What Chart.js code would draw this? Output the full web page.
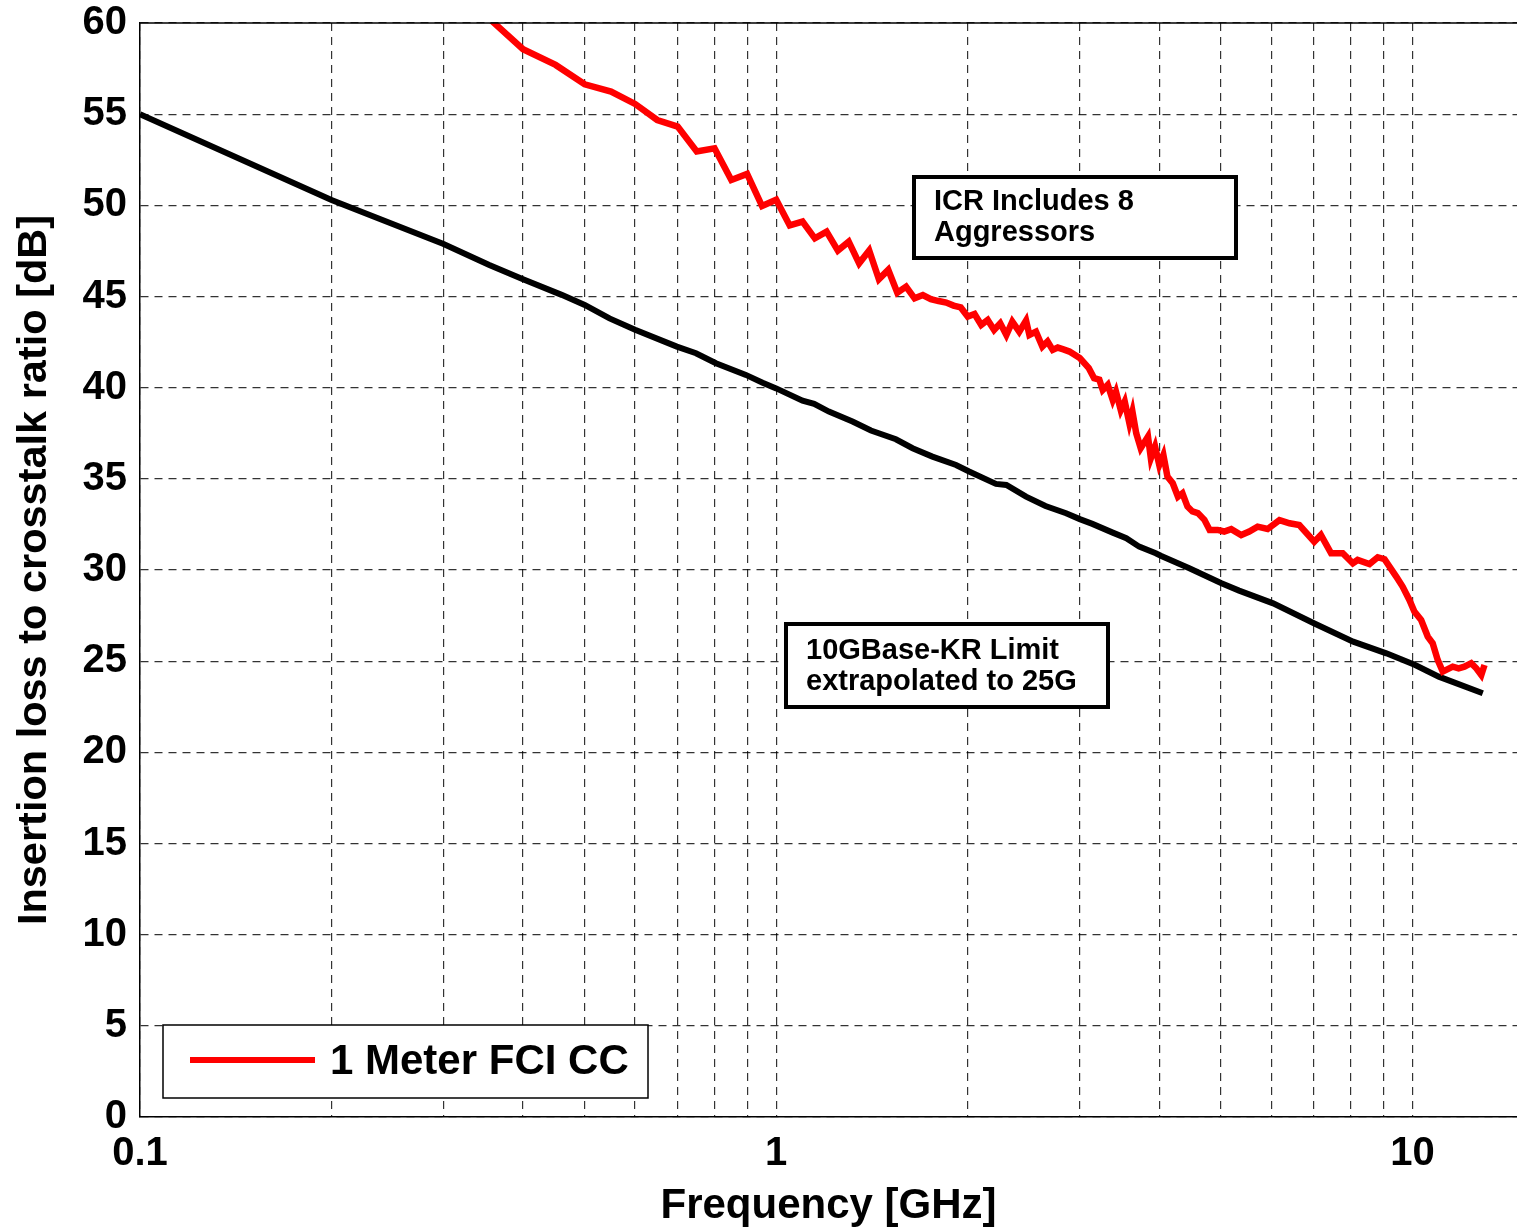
<!DOCTYPE html>
<html>
<head>
<meta charset="utf-8">
<script src="https://cdn.jsdelivr.net/npm/chart.js@4/dist/chart.umd.min.js"></script>
<style>
  html, body { margin: 0; padding: 0; background: #fff; }
  #wrap { width: 1517px; height: 1230px; position: relative; }
</style>
</head>
<body>
<div id="wrap"><canvas id="icrChart"></canvas></div>
<script>
// 1 Meter FCI CC, measured ICR (GHz / dB)
var redFreq = [0.35, 0.40, 0.45, 0.50, 0.55, 0.60, 0.65, 0.70, 0.75, 0.80,
	0.85, 0.90, 0.95, 1.00, 1.05, 1.10, 1.15, 1.20, 1.25, 1.30,
	1.35, 1.40, 1.45, 1.50, 1.55, 1.60, 1.65, 1.70, 1.75, 1.80,
	1.85, 1.90, 1.95, 2.00, 2.05, 2.10, 2.15, 2.20, 2.25, 2.30,
	2.35, 2.41, 2.47, 2.50, 2.56, 2.62, 2.67, 2.72, 2.77, 2.82,
	2.89, 3.00, 3.10, 3.16, 3.22, 3.26, 3.32, 3.38, 3.42, 3.48,
	3.53, 3.59, 3.63, 3.68, 3.74, 3.84, 3.88, 3.94, 4.00, 4.06,
	4.12, 4.20, 4.28, 4.35, 4.43, 4.51, 4.60, 4.71, 4.80, 4.94,
	5.06, 5.19, 5.38, 5.54, 5.71, 5.92, 6.18, 6.41, 6.64, 7.01,
	7.18, 7.45, 7.77, 8.06, 8.20, 8.56, 8.82, 9.04, 9.43, 9.65,
	9.89, 10.07, 10.32, 10.57, 10.76, 10.96, 11.16, 11.57, 11.82, 12.07,
	12.37, 12.60, 12.83, 12.98]
var redIcr = [60.4, 58.56, 57.70, 56.64, 56.24, 55.56, 54.68, 54.32, 52.95, 53.13,
	51.39, 51.72, 49.96, 50.31, 48.90, 49.11, 48.19, 48.56, 47.52, 48.01,
	46.82, 47.52, 45.95, 46.46, 45.21, 45.54, 44.90, 45.08, 44.85, 44.75,
	44.67, 44.50, 44.40, 43.90, 44.04, 43.44, 43.71, 43.16, 43.53, 42.89,
	43.62, 43.07, 43.68, 42.89, 43.07, 42.25, 42.53, 42.07, 42.20, 42.11,
	41.98, 41.62, 41.07, 40.52, 40.44, 39.87, 40.15, 39.33, 39.78, 38.77,
	39.24, 38.05, 38.69, 37.50, 36.68, 37.32, 36.13, 36.77, 35.76, 36.31,
	35.12, 34.76, 34.02, 34.21, 33.48, 33.21, 33.12, 32.75, 32.20, 32.20,
	32.11, 32.24, 31.92, 32.11, 32.38, 32.25, 32.74, 32.56, 32.47, 31.55,
	31.92, 30.92, 30.92, 30.37, 30.55, 30.33, 30.70, 30.59, 29.64, 29.09,
	28.36, 27.72, 27.26, 26.35, 25.98, 25.06, 24.43, 24.70, 24.61, 24.70,
	24.89, 24.61, 24.24, 24.79]

// 10GBase-KR limit extrapolated to 25G
var limitFreq = [0.1, 0.2, 0.3, 0.354, 0.4, 0.46, 0.5, 0.547, 0.6, 0.698,
	0.748, 0.804, 0.896, 0.952, 1.0, 1.1, 1.147, 1.21, 1.318, 1.409,
	1.542, 1.638, 1.76, 1.917, 2.01, 2.215, 2.30, 2.47, 2.65, 2.855,
	3.0, 3.14, 3.38, 3.55, 3.72, 3.95, 4.03, 4.46, 5.01, 5.34,
	6.04, 7.0, 8.07, 9.1, 10.1, 11.0, 12.9]
var limitIcr = [55.0, 50.29, 47.88, 46.73, 45.94, 45.09, 44.54, 43.80, 43.18, 42.25,
	41.89, 41.34, 40.70, 40.27, 39.96, 39.29, 39.11, 38.69, 38.14, 37.65,
	37.17, 36.68, 36.22, 35.76, 35.40, 34.72, 34.66, 34.02, 33.51, 33.11,
	32.79, 32.53, 32.05, 31.74, 31.28, 30.92, 30.77, 30.10, 29.27, 28.87,
	28.17, 27.08, 26.07, 25.43, 24.79, 24.15, 23.24]

var gridFreq = [0.1, 0.2, 0.3, 0.4, 0.5, 0.6, 0.7, 0.8, 0.9,
	1, 2, 3, 4, 5, 6, 7, 8, 9, 10]
var labelFreq = [0.1, 1, 10]

var seriesNames = ['1 Meter FCI CC', '10GBase-KR Limit']
var noteTexts = [
	['ICR Includes 8', 'Aggressors'],
	['10GBase-KR Limit', 'extrapolated to 25G']
]

var FONT = "'Liberation Sans', Arial, Helvetica, sans-serif"

function toPoints(xs, ys){
	return xs.map(function(x, i){ return {x: x, y: ys[i]} })
}

// frame on top + text boxes + legend
const extras = {
	id: 'extras',
	afterDraw: (chart) => {
		const ctx = chart.ctx
		const a = chart.chartArea
		ctx.save()
		ctx.strokeStyle = '#000'
		ctx.lineWidth = 1.5
		ctx.beginPath()
		ctx.moveTo(a.left, a.top)
		ctx.lineTo(a.right, a.top)
		ctx.stroke()

		// annotation boxes
		const boxes = [
			{x: 914, y: 177, w: 322, h: 81, tx: 934, ty: [210, 241]},
			{x: 786, y: 624, w: 322, h: 83, tx: 806, ty: [659, 690]}
		]
		boxes.forEach((b, i) => {
			ctx.fillStyle = '#fff'
			ctx.fillRect(b.x, b.y, b.w, b.h)
			ctx.lineWidth = 4
			ctx.strokeStyle = '#000'
			ctx.strokeRect(b.x, b.y, b.w, b.h)
			ctx.fillStyle = '#000'
			ctx.font = 'bold 29px ' + FONT
			ctx.textBaseline = 'alphabetic'
			ctx.textAlign = 'left'
			noteTexts[i].forEach((t, j) => ctx.fillText(t, b.tx, b.ty[j]))
		})

		// legend
		const ds = chart.data.datasets[0]
		ctx.fillStyle = '#fff'
		ctx.fillRect(163, 1025, 485, 73)
		ctx.lineWidth = 1.5
		ctx.strokeStyle = '#000'
		ctx.strokeRect(163, 1025, 485, 73)
		ctx.strokeStyle = ds.borderColor
		ctx.lineWidth = 6
		ctx.beginPath()
		ctx.moveTo(190, 1060)
		ctx.lineTo(315, 1060)
		ctx.stroke()
		ctx.fillStyle = '#000'
		ctx.font = 'bold 42px ' + FONT
		ctx.textBaseline = 'middle'
		ctx.fillText(ds.label, 330, 1062)
		ctx.restore()
	}
}

const data = {
	datasets: [{
		label: seriesNames[0],
		data: toPoints(redFreq, redIcr),
		borderColor: 'rgb(255, 0, 0)',
		borderWidth: 6.5,
		pointRadius: 0,
		tension: 0,
		clip: 0
	},
	{
		label: seriesNames[1],
		data: toPoints(limitFreq, limitIcr),
		borderColor: 'rgb(0, 0, 0)',
		borderWidth: 6,
		pointRadius: 0,
		tension: 0,
		clip: 0
	}]
}

const config = {
	type: 'line',
	data: data,
	options: {
		responsive: true,
		maintainAspectRatio: false,
		animation: false,
		layout: { padding: { top: 23, right: 0, left: 0, bottom: 0 } },
		plugins: {
			legend: { display: false },
			tooltip: { enabled: false }
		},
		scales: {
			x: {
				type: 'logarithmic',
				min: 0.1,
				max: 14.6,
				afterBuildTicks: (scale) => {
					scale.ticks = gridFreq.map(v => ({value: v, major: false}))
				},
				afterFit: (scale) => { scale.height = 113 },
				grid: { color: 'rgba(0,0,0,0.8)', lineWidth: 1.2, drawTicks: false },
				border: { display: true, color: '#000', width: 1.5, dash: [8, 6] },
				ticks: {
					autoSkip: false,
					maxRotation: 0,
					padding: 17,
					color: '#000',
					font: { family: FONT, size: 40, weight: 'bold', lineHeight: 1 },
					callback: (v) => labelFreq.indexOf(v) >= 0 ? String(v) : ''
				},
				title: {
					display: true,
					text: 'Frequency [GHz]',
					color: '#000',
					padding: { top: 0, bottom: 0 },
					font: { family: FONT, size: 42, weight: 'bold', lineHeight: 1.1 }
				}
			},
			y: {
				min: 0,
				max: 60,
				afterFit: (scale) => { scale.width = 140 },
				grid: { color: 'rgba(0,0,0,0.8)', lineWidth: 1.2, drawTicks: false },
				border: { display: true, color: '#000', width: 1.5, dash: [8, 6] },
				ticks: {
					stepSize: 5,
					padding: 13,
					color: '#000',
					font: { family: FONT, size: 40, weight: 'bold', lineHeight: 0.5 }
				},
				title: {
					display: true,
					text: 'Insertion loss to crosstalk ratio [dB]',
					color: '#000',
					padding: { top: 11, bottom: 0 },
					font: { family: FONT, size: 41.5, weight: 'bold', lineHeight: 1.15 }
				}
			}
		}
	},
	plugins: [extras]
}

const icrChart = new Chart(document.getElementById('icrChart'), config)
</script>
</body>
</html>
